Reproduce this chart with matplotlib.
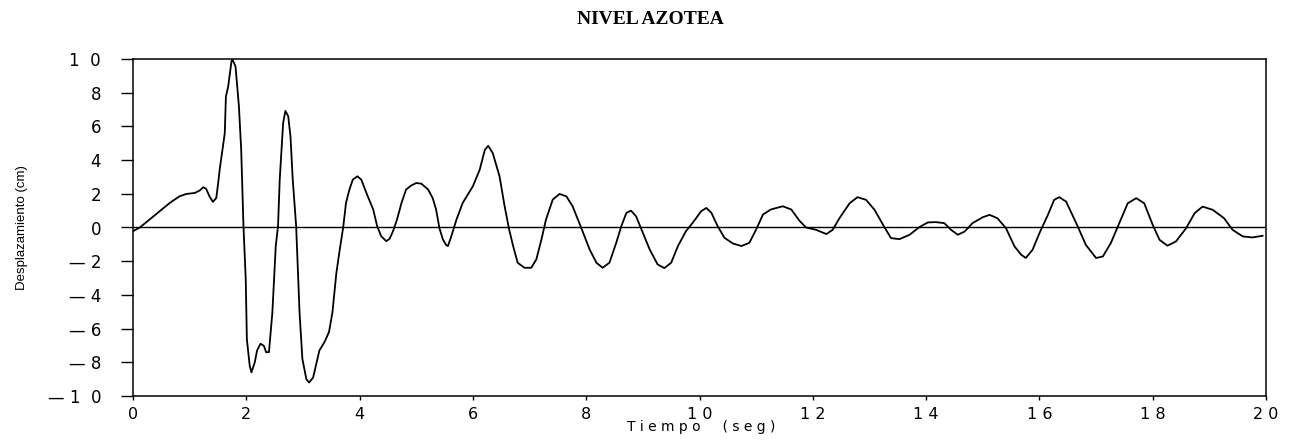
import matplotlib
matplotlib.use("Agg")
import matplotlib.pyplot as plt
from matplotlib import font_manager

# Time (s) and displacement (cm)
t = [0.00, 0.12, 0.29, 0.47, 0.65, 0.82, 0.94, 1.09, 1.18, 1.24, 1.29, 1.35, 1.41, 1.47,
     1.50, 1.53, 1.62, 1.64, 1.68, 1.74, 1.76, 1.81, 1.87, 1.91, 1.95, 1.99, 2.01, 2.06,
     2.09, 2.15, 2.19, 2.25, 2.31, 2.35, 2.40, 2.46, 2.52, 2.56, 2.59, 2.65, 2.69, 2.74,
     2.78, 2.82, 2.88, 2.94, 2.99, 3.06, 3.11, 3.18, 3.29, 3.38, 3.46, 3.52, 3.59, 3.65,
     3.71, 3.76, 3.82, 3.88, 3.96, 4.03, 4.12, 4.18, 4.24, 4.31, 4.38, 4.47, 4.53, 4.59,
     4.66, 4.74, 4.82, 4.91, 5.00, 5.09, 5.21, 5.29, 5.35, 5.41, 5.47, 5.53, 5.56, 5.62,
     5.71, 5.82, 6.00, 6.12, 6.21, 6.27, 6.35, 6.47, 6.56, 6.64, 6.71, 6.79, 6.91, 7.03,
     7.12, 7.21, 7.29, 7.41, 7.53, 7.65, 7.76, 7.91, 8.06, 8.18, 8.29, 8.41, 8.53, 8.62,
     8.71, 8.79, 8.88, 9.00, 9.12, 9.26, 9.38, 9.50, 9.62, 9.76, 9.88, 10.03, 10.12, 10.21,
     10.32, 10.44, 10.59, 10.74, 10.88, 11.00, 11.12, 11.26, 11.47, 11.62, 11.76, 11.88,
     12.06, 12.24, 12.35, 12.47, 12.65, 12.79, 12.94, 13.09, 13.24, 13.38, 13.53, 13.71,
     13.88, 14.03, 14.17, 14.32, 14.44, 14.56, 14.68, 14.82, 15.00, 15.12, 15.26, 15.41,
     15.56, 15.68, 15.76, 15.88, 16.00, 16.15, 16.26, 16.35, 16.47, 16.65, 16.82, 17.00,
     17.12, 17.26, 17.41, 17.56, 17.71, 17.85, 18.00, 18.12, 18.26, 18.41, 18.59, 18.74,
     18.88, 19.06, 19.26, 19.41, 19.59, 19.76, 19.94]
desp = [-0.22, 0.00, 0.47, 0.97, 1.46, 1.85, 1.99, 2.05, 2.20, 2.39, 2.30, 1.85, 1.52, 1.75,
        2.54, 3.43, 5.60, 7.77, 8.36, 9.90, 9.94, 9.55, 7.18, 4.60, 0.08, -3.08, -6.63, -8.20,
        -8.60, -8.00, -7.30, -6.90, -7.02, -7.40, -7.40, -5.05, -1.10, 0.08, 2.84, 6.20, 6.92, 6.60,
        5.40, 2.84, 0.08, -5.05, -7.80, -9.00, -9.20, -8.90, -7.30, -6.80, -6.20, -5.05, -2.70, -1.30,
        0.00, 1.46, 2.25, 2.84, 3.04, 2.84, 2.05, 1.56, 1.07, 0.08, -0.51, -0.81, -0.67, -0.22,
        0.47, 1.46, 2.25, 2.49, 2.64, 2.60, 2.25, 1.75, 1.07, -0.05, -0.71, -1.05, -1.10, -0.51,
        0.47, 1.46, 2.45, 3.43, 4.60, 4.85, 4.42, 3.04, 1.26, -0.12, -1.10, -2.09, -2.39, -2.39,
        -1.89, -0.71, 0.47, 1.66, 1.99, 1.85, 1.26, 0.00, -1.30, -2.09, -2.39, -2.09, -0.91, 0.08,
        0.87, 1.00, 0.67, -0.32, -1.30, -2.19, -2.41, -2.09, -1.10, -0.22, 0.28, 0.97, 1.16, 0.87,
        0.08, -0.61, -0.95, -1.10, -0.91, -0.12, 0.77, 1.07, 1.26, 1.07, 0.42, 0.00,
        -0.14, -0.39, -0.14, 0.55, 1.44, 1.80, 1.64, 1.05, 0.16, -0.63, -0.69, -0.43,
        0.02, 0.30, 0.32, 0.26, -0.14, -0.43, -0.24, 0.26, 0.61, 0.75, 0.55, -0.04,
        -1.12, -1.62, -1.81, -1.32, -0.34, 0.75, 1.64, 1.80, 1.54, 0.26, -1.03, -1.81,
        -1.72, -0.93, 0.26, 1.44, 1.74, 1.44, 0.16, -0.73, -1.08, -0.83, -0.04, 0.85,
        1.24, 1.05, 0.55, -0.14, -0.53, -0.59, -0.49]

x_ticks = [0, 2, 4, 6, 8, 10, 12, 14, 16, 18, 20]
x_labels = ["0", "2", "4", "6", "8", "1 0", "1 2", "1 4", "1 6", "1 8", "2 0"]
y_ticks = [-10, -8, -6, -4, -2, 0, 2, 4, 6, 8, 10]
y_labels = ["\u2014 1  0", "\u2014 8", "\u2014 6", "\u2014 4", "\u2014 2", "0",
            "2", "4", "6", "8", "1  0"]

available = {f.name for f in font_manager.fontManager.ttflist}
if "Liberation Sans Narrow" in available:
    ylab_family, ylab_size = "Liberation Sans Narrow", 11.5
else:
    ylab_family, ylab_size = "Liberation Sans", 9.5

fig = plt.figure(figsize=(12.96, 4.44), dpi=100)
ax = fig.add_axes([133 / 1296, 1 - 396 / 444, (1266 - 133) / 1296, (396 - 59) / 444])

ax.axhline(0, color="black", lw=1.0)
ax.plot(t, desp, color="black", lw=1.3)

ax.set_xlim(0, 20)
ax.set_ylim(-10, 10)
ax.set_xticks(x_ticks)
ax.set_xticklabels(x_labels, fontsize=11.5, family="DejaVu Sans")
ax.set_yticks(y_ticks)
ax.set_yticklabels(y_labels, fontsize=12, family="DejaVu Sans")
ax.tick_params(axis="y", direction="out", length=9, width=1, pad=14)
ax.tick_params(axis="x", direction="out", length=3, width=1, pad=5)
for s in ax.spines.values():
    s.set_linewidth(1.1)

fig.text(701 / 1296, 1 - 427 / 444, "T i e m p o     ( s e g )", ha="center", va="center",
         fontsize=10, family="DejaVu Sans")
fig.text(22 / 1296, 1 - 228 / 444, "Desplazamiento (cm)", rotation=90, ha="center",
         va="center", fontsize=ylab_size, family=ylab_family)
fig.text(650 / 1296, 1 - 20 / 444, "NIVEL AZOTEA", ha="center", va="center",
         fontsize=14, fontweight="bold", family="Liberation Serif")

fig.savefig("out.png", dpi=100)
